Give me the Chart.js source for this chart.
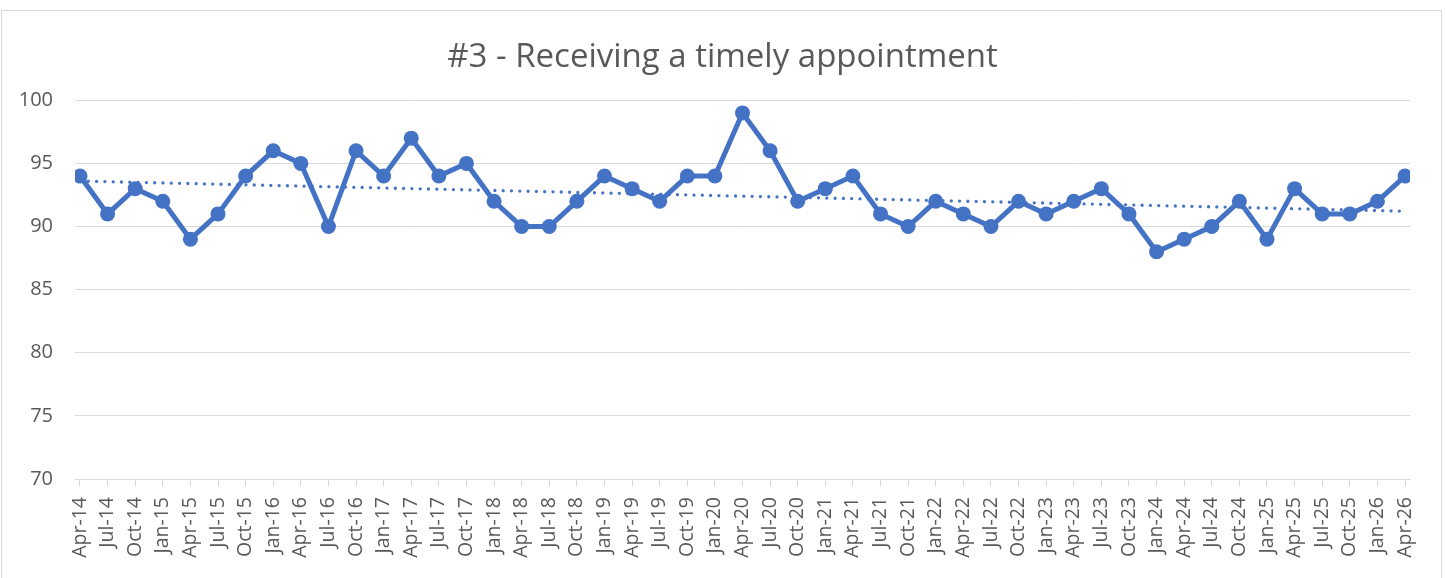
<!DOCTYPE html>
<html>
<head>
<meta charset="utf-8">
<script src="https://cdn.jsdelivr.net/npm/chart.js@4/dist/chart.umd.min.js"></script>
<style>
  html, body { margin: 0; padding: 0; background: #ffffff; }
  #wrap { width: 1445px; height: 578px; position: relative; }
</style>
</head>
<body>
<div id="wrap"><canvas id="c" width="1445" height="578"></canvas></div>
<script>
const chartTitle = "#3 - Receiving a timely appointment";
const categories = [
  "Apr-14","Jul-14","Oct-14","Jan-15","Apr-15","Jul-15","Oct-15","Jan-16","Apr-16","Jul-16",
  "Oct-16","Jan-17","Apr-17","Jul-17","Oct-17","Jan-18","Apr-18","Jul-18","Oct-18","Jan-19",
  "Apr-19","Jul-19","Oct-19","Jan-20","Apr-20","Jul-20","Oct-20","Jan-21","Apr-21","Jul-21",
  "Oct-21","Jan-22","Apr-22","Jul-22","Oct-22","Jan-23","Apr-23","Jul-23","Oct-23","Jan-24",
  "Apr-24","Jul-24","Oct-24","Jan-25","Apr-25","Jul-25","Oct-25","Jan-26","Apr-26"
];
const scores = [
  94, 91, 93, 92, 89, 91, 94, 96, 95, 90,
  96, 94, 97, 94, 95, 92, 90, 90, 92, 94,
  93, 92, 94, 94, 99, 96, 92, 93, 94, 91,
  90, 92, 91, 90, 92, 91, 92, 93, 91, 88,
  89, 90, 92, 89, 93, 91, 91, 92, 94
];
const yTicks = [70, 75, 80, 85, 90, 95, 100];

// Linear trendline (least squares) derived from the series, as in the original
const n = scores.length;
const xs = scores.map((_, i) => i);
const mx = xs.reduce((a, b) => a + b, 0) / n;
const my = scores.reduce((a, b) => a + b, 0) / n;
let sxy = 0, sxx = 0;
for (let i = 0; i < n; i++) { sxy += (xs[i] - mx) * (scores[i] - my); sxx += (xs[i] - mx) ** 2; }
const slope = sxy / sxx;
const intercept = my - slope * mx;
const trend = [0, n - 1].map(i => ({ x: i, y: intercept + slope * i }));

const mainPoints = scores.map((v, i) => ({ x: i, y: v }));

const TEXT = '#595959';
const GRID = '#d9d9d9';
const BLUE = '#4472C4';
const FONT = "'Open Sans', 'DejaVu Sans', sans-serif";

const frame = {
  id: 'frame',
  beforeDraw(chart) {
    const ctx = chart.ctx;
    ctx.save();
    ctx.fillStyle = '#ffffff';
    ctx.fillRect(0, 0, chart.width, chart.height);
    ctx.strokeStyle = GRID;
    ctx.lineWidth = 1;
    ctx.strokeRect(1.5, 10.5, 1440, 580);
    ctx.restore();
  }
};

new Chart(document.getElementById('c'), {
  type: 'line',
  data: {
    datasets: [
      {
        label: 'Score',
        data: mainPoints,
        borderColor: BLUE,
        backgroundColor: BLUE,
        borderWidth: 5,
        pointRadius: 7.5,
        pointBorderWidth: 0,
        pointBackgroundColor: BLUE,
        tension: 0,
        order: 0
      },
      {
        label: 'Trend',
        data: trend,
        borderColor: BLUE,
        borderWidth: 3.3,
        borderDash: [0, 8.3],
        borderCapStyle: 'round',
        pointRadius: 0,
        fill: false,
        order: 1
      }
    ]
  },
  options: {
    responsive: false,
    animation: false,
    events: [],
    layout: { padding: { left: 0, right: 0, top: 0, bottom: 0 } },
    plugins: {
      legend: { display: false },
      tooltip: { enabled: false },
      title: {
        display: true,
        text: chartTitle,
        color: TEXT,
        font: { family: FONT, size: 33, weight: 'normal', lineHeight: 1.2 },
        padding: { top: 38, bottom: 22.7 }
      }
    },
    scales: {
      x: {
        type: 'linear',
        min: -0.181,
        max: n - 1 + 0.181,
        afterBuildTicks: (s) => { s.ticks = categories.map((_, i) => ({ value: i })); },
        afterFit: (s) => { s.height = 99; },
        ticks: {
          autoSkip: false,
          minRotation: 90,
          maxRotation: 90,
          padding: 11,
          color: TEXT,
          font: { family: FONT, size: 19.5 },
          callback: (v) => categories[v]
        },
        grid: { drawOnChartArea: false, drawTicks: true, tickLength: 7, color: GRID, lineWidth: 1 },
        border: { display: true, color: GRID, width: 1 }
      },
      y: {
        min: 70,
        max: 100,
        afterBuildTicks: (s) => { s.ticks = yTicks.map(v => ({ value: v })); },
        afterFit: (s) => { s.width = 75; },
        ticks: {
          padding: 22,
          color: TEXT,
          font: { family: FONT, size: 20 }
        },
        grid: { drawTicks: false, color: GRID, lineWidth: 1 },
        border: { display: false }
      },
      spacer: {
        type: 'linear',
        position: 'right',
        display: true,
        min: 0,
        max: 1,
        afterFit: (s) => { s.width = 35; },
        ticks: { display: false },
        grid: { display: false, drawOnChartArea: false, drawTicks: false },
        border: { display: false }
      }
    }
  },
  plugins: [frame]
});
</script>
</body>
</html>
